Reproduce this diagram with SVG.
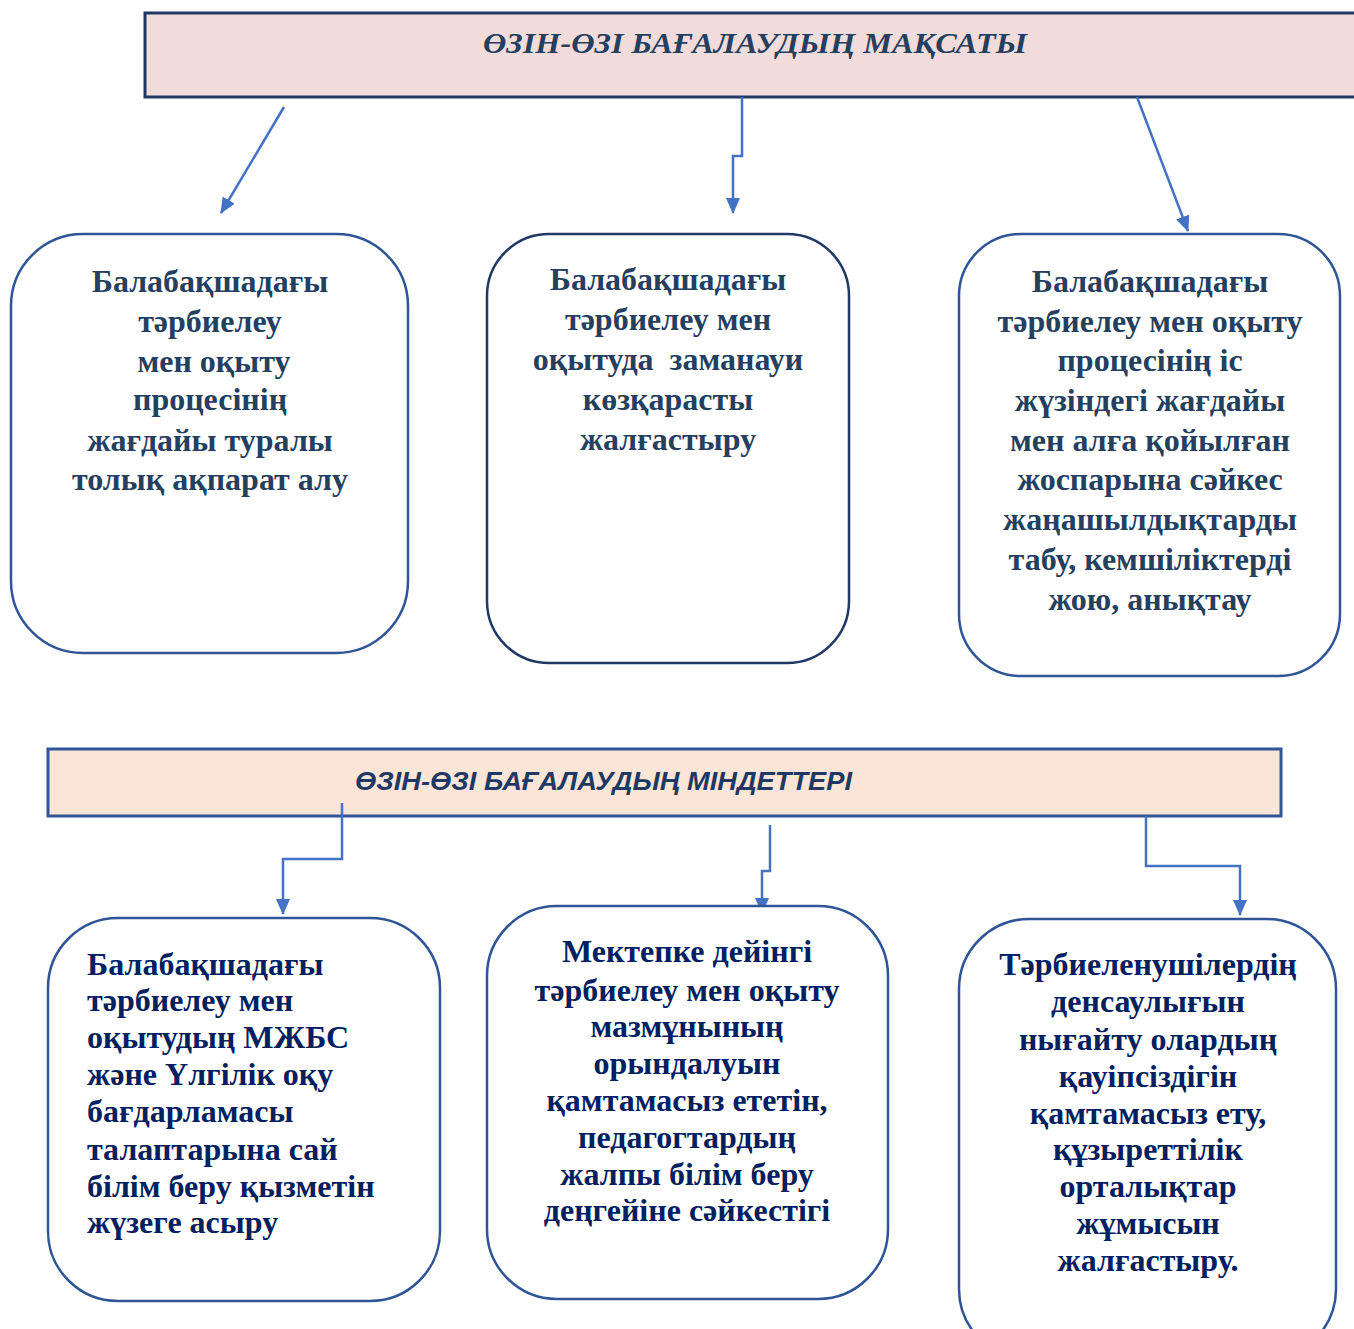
<svg xmlns="http://www.w3.org/2000/svg" width="1354" height="1329" viewBox="0 0 1354 1329">
<defs>
<marker id="ah" markerWidth="16" markerHeight="14" refX="15" refY="7" orient="auto" markerUnits="userSpaceOnUse">
<path d="M0,0 L16,7 L0,14 Z" fill="#4472C4"/>
</marker>
<style>
.box{fill:#fff;stroke:#2F5597;stroke-width:2.5}
.dark{stroke:#203864}
.t1{font-family:"Liberation Serif","Times New Roman",serif;font-weight:bold;font-size:32px;fill:#243F60;text-anchor:middle}
.t2{font-family:"Liberation Serif","Times New Roman",serif;font-weight:bold;font-size:32px;fill:#002060}
.c{text-anchor:middle}
.con{fill:none;stroke:#4472C4;stroke-width:2.5;marker-end:url(#ah)}
</style>
</defs>
<rect width="1354" height="1329" fill="#fff"/>
<g id="title1">
<rect x="145" y="13" width="1215" height="84" fill="#F2DCDB" stroke="#1F3864" stroke-width="3"/>
<text x="755" y="53" font-family="Liberation Serif, serif" font-weight="bold" font-style="italic" font-size="30" fill="#243F60" text-anchor="middle" textLength="544" lengthAdjust="spacingAndGlyphs">ӨЗІН-ӨЗІ БАҒАЛАУДЫҢ МАҚСАТЫ</text>
</g>
<g id="title2">
<rect x="48" y="749" width="1233" height="67" fill="#FBE5D6" stroke="#2F5597" stroke-width="3"/>
<text x="355" y="790" font-family="Liberation Sans, sans-serif" font-weight="bold" font-style="italic" font-size="25" fill="#1F3864" textLength="497" lengthAdjust="spacingAndGlyphs">ӨЗІН-ӨЗІ БАҒАЛАУДЫҢ МІНДЕТТЕРІ</text>
</g>
<g id="connectors">
<path class="con" d="M284,107 L221,213"/>
<path class="con" d="M742,97 L742,156 L733,156 L733,213"/>
<path class="con" d="M1137,97 L1188,231"/>
<path class="con" d="M342,803 L342,859 L283,859 L283,914"/>
<path class="con" d="M770,825 L770,871 L762,871 L762,913"/>
<path class="con" d="M1146,816 L1146,866 L1240,866 L1240,915"/>
</g>
<g id="box1">
<rect class="box" x="11" y="234" width="397" height="419" rx="72"/>
<text class="t1"><tspan x="210" y="292">Балабақшадағы</tspan><tspan x="210" y="332">тәрбиелеу</tspan><tspan x="214" y="372">мен оқыту</tspan><tspan x="210" y="410">процесінің</tspan><tspan x="210" y="451">жағдайы туралы</tspan><tspan x="210" y="490">толық ақпарат алу</tspan></text>
</g>
<g id="box2">
<rect class="box dark" x="487" y="234" width="362" height="429" rx="62"/>
<text class="t1"><tspan x="668" y="290">Балабақшадағы</tspan><tspan x="668" y="330">тәрбиелеу мен</tspan><tspan x="668" y="370" xml:space="preserve">оқытуда  заманауи</tspan><tspan x="668" y="410">көзқарасты</tspan><tspan x="668" y="450">жалғастыру</tspan></text>
</g>
<g id="box3">
<rect class="box" x="959" y="234" width="381" height="442" rx="62"/>
<text class="t1"><tspan x="1150" y="292">Балабақшадағы</tspan><tspan x="1150" y="332">тәрбиелеу мен оқыту</tspan><tspan x="1150" y="371">процесінің іс</tspan><tspan x="1150" y="411">жүзіндегі жағдайы</tspan><tspan x="1150" y="451">мен алға қойылған</tspan><tspan x="1150" y="490">жоспарына сәйкес</tspan><tspan x="1150" y="530">жаңашылдықтарды</tspan><tspan x="1150" y="570">табу, кемшіліктерді</tspan><tspan x="1150" y="610">жою, анықтау</tspan></text>
</g>
<g id="box4">
<rect class="box" x="48" y="918" width="392" height="383" rx="70"/>
<text class="t2"><tspan x="87" y="975">Балабақшадағы</tspan><tspan x="87" y="1011">тәрбиелеу мен</tspan><tspan x="87" y="1048">оқытудың МЖБС</tspan><tspan x="87" y="1085">және Үлгілік оқу</tspan><tspan x="87" y="1122">бағдарламасы</tspan><tspan x="87" y="1160">талаптарына сай</tspan><tspan x="87" y="1197">білім беру қызметін</tspan><tspan x="87" y="1233">жүзеге асыру</tspan></text>
</g>
<g id="box5">
<rect class="box" x="487" y="906" width="401" height="393" rx="70"/>
<text class="t2 c"><tspan x="687" y="962">Мектепке дейінгі</tspan><tspan x="687" y="1001">тәрбиелеу мен оқыту</tspan><tspan x="687" y="1037">мазмұнының</tspan><tspan x="687" y="1074">орындалуын</tspan><tspan x="687" y="1111">қамтамасыз ететін,</tspan><tspan x="687" y="1148">педагогтардың</tspan><tspan x="687" y="1185">жалпы білім беру</tspan><tspan x="687" y="1221">деңгейіне сәйкестігі</tspan></text>
</g>
<g id="box6">
<rect class="box" x="959" y="919" width="377" height="440" rx="70"/>
<text class="t2 c"><tspan x="1148" y="975">Тәрбиеленушілердің</tspan><tspan x="1148" y="1012">денсаулығын</tspan><tspan x="1148" y="1050">нығайту олардың</tspan><tspan x="1148" y="1087">қауіпсіздігін</tspan><tspan x="1148" y="1124">қамтамасыз ету,</tspan><tspan x="1148" y="1160">құзыреттілік</tspan><tspan x="1148" y="1197">орталықтар</tspan><tspan x="1148" y="1234">жұмысын</tspan><tspan x="1148" y="1271">жалғастыру.</tspan></text>
</g>
</svg>
